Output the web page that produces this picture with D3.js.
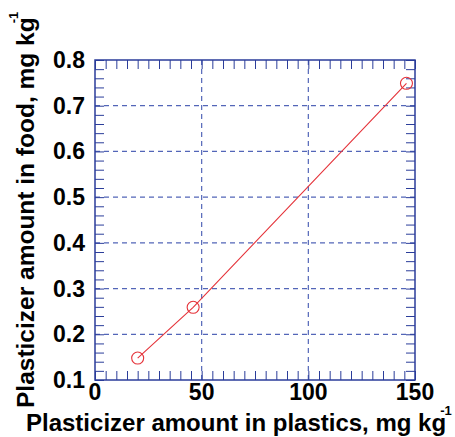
<!DOCTYPE html>
<html>
<head>
<meta charset="utf-8">
<script src="https://cdn.jsdelivr.net/npm/d3@7"></script>
<style>
html,body{margin:0;padding:0;background:#fff;}
svg{display:block;font-family:"Liberation Sans",Arial,sans-serif;}
</style>
</head>
<body>
<svg id="chart" width="455" height="437"></svg>
<script>
// Data
const plasticsAmount = [20, 46, 146];
const foodAmount = [0.148, 0.259, 0.749];
const xTickValues = [0, 50, 100, 150];
const yTickValues = [0.1, 0.2, 0.3, 0.4, 0.5, 0.6, 0.7, 0.8];
const xLabel = "Plasticizer amount in plastics, mg kg";
const yLabel = "Plasticizer amount in food, mg kg";

const svg = d3.select("#chart");
const m = {left: 95, top: 60, right: 40, bottom: 57};
const W = 455, H = 437;
const x = d3.scaleLinear().domain([0, 150]).range([m.left, W - m.right]);
const y = d3.scaleLinear().domain([0.1, 0.8]).range([H - m.bottom, m.top]);

const axisColor = "#2b3d9a";
const gridColor = "#5366b8";
const red = "#e5333a";

// grid
const g = svg.append("g");
g.selectAll("line.gx").data(xTickValues.filter(v => v > 0 && v < 150)).enter().append("line")
  .attr("x1", d => x(d)).attr("x2", d => x(d)).attr("y1", y(0.8)).attr("y2", y(0.1))
  .attr("stroke", gridColor).attr("stroke-width", 1.2).attr("stroke-dasharray", "5,4");
g.selectAll("line.gy").data(yTickValues.filter(v => v > 0.15 && v < 0.75)).enter().append("line")
  .attr("y1", d => y(d)).attr("y2", d => y(d)).attr("x1", x(0)).attr("x2", x(150))
  .attr("stroke", gridColor).attr("stroke-width", 1.2).attr("stroke-dasharray", "5,4");

// minor ticks (inward, all four sides)
const tl = 9;
const xMinor = d3.range(0, 151, 5);
const yMinor = d3.range(0, 36).map(i => +(0.1 + i * 0.02).toFixed(2));
const bottomAxis = d3.axisBottom(x).tickValues(xMinor).tickSize(-tl).tickFormat("");
const topAxis = d3.axisTop(x).tickValues(xMinor).tickSize(-tl).tickFormat("");
const leftAxis = d3.axisLeft(y).tickValues(yMinor).tickSize(-tl).tickFormat("");
const rightAxis = d3.axisRight(y).tickValues(yMinor).tickSize(-tl).tickFormat("");
[[bottomAxis, `translate(0,${y(0.1)})`], [topAxis, `translate(0,${y(0.8)})`],
 [leftAxis, `translate(${x(0)},0)`], [rightAxis, `translate(${x(150)},0)`]].forEach(([ax, tr]) => {
  const a = svg.append("g").attr("transform", tr).call(ax);
  a.select(".domain").remove();
  a.selectAll(".tick line").attr("stroke", axisColor).attr("stroke-width", 1);
});

// frame
svg.append("rect").attr("x", x(0)).attr("y", y(0.8)).attr("width", x(150) - x(0)).attr("height", y(0.1) - y(0.8))
  .attr("fill", "none").attr("stroke", axisColor).attr("stroke-width", 1.5);

// tick labels
svg.selectAll("text.xl").data(xTickValues).enter().append("text")
  .attr("x", d => x(d)).attr("y", y(0.1) + 20).attr("text-anchor", "middle")
  .attr("font-size", 23).attr("font-weight", "bold").attr("fill", "#000").text(d => d);
svg.selectAll("text.yl").data(yTickValues).enter().append("text")
  .attr("x", x(0) - 10).attr("y", d => y(d) + 8).attr("text-anchor", "end")
  .attr("font-size", 23).attr("font-weight", "bold").attr("fill", "#000").text(d => d.toFixed(1));

// data line and points
const line = d3.line().x((d, i) => x(plasticsAmount[i])).y(d => y(d));
svg.append("path").datum(foodAmount).attr("d", line).attr("fill", "none").attr("stroke", red).attr("stroke-width", 1.1);
svg.selectAll("circle.pt").data(foodAmount).enter().append("circle")
  .attr("cx", (d, i) => x(plasticsAmount[i])).attr("cy", d => y(d)).attr("r", 6)
  .attr("fill", "none").attr("stroke", red).attr("stroke-width", 1.1);

// axis titles
const xt = svg.append("text").attr("x", 26).attr("y", 431).attr("font-size", 24).attr("font-weight", "bold").attr("fill", "#000");
xt.append("tspan").text(xLabel);
xt.append("tspan").attr("dx", -6).attr("dy", -16).attr("font-size", 13).text("-1");

const yt = svg.append("text").attr("transform", "translate(34,408) rotate(-90)").attr("font-size", 24.5).attr("font-weight", "bold").attr("fill", "#000");
yt.append("tspan").text(yLabel);
yt.append("tspan").attr("dx", -6).attr("dy", -16).attr("font-size", 13).text("-1");
</script>
</body>
</html>
